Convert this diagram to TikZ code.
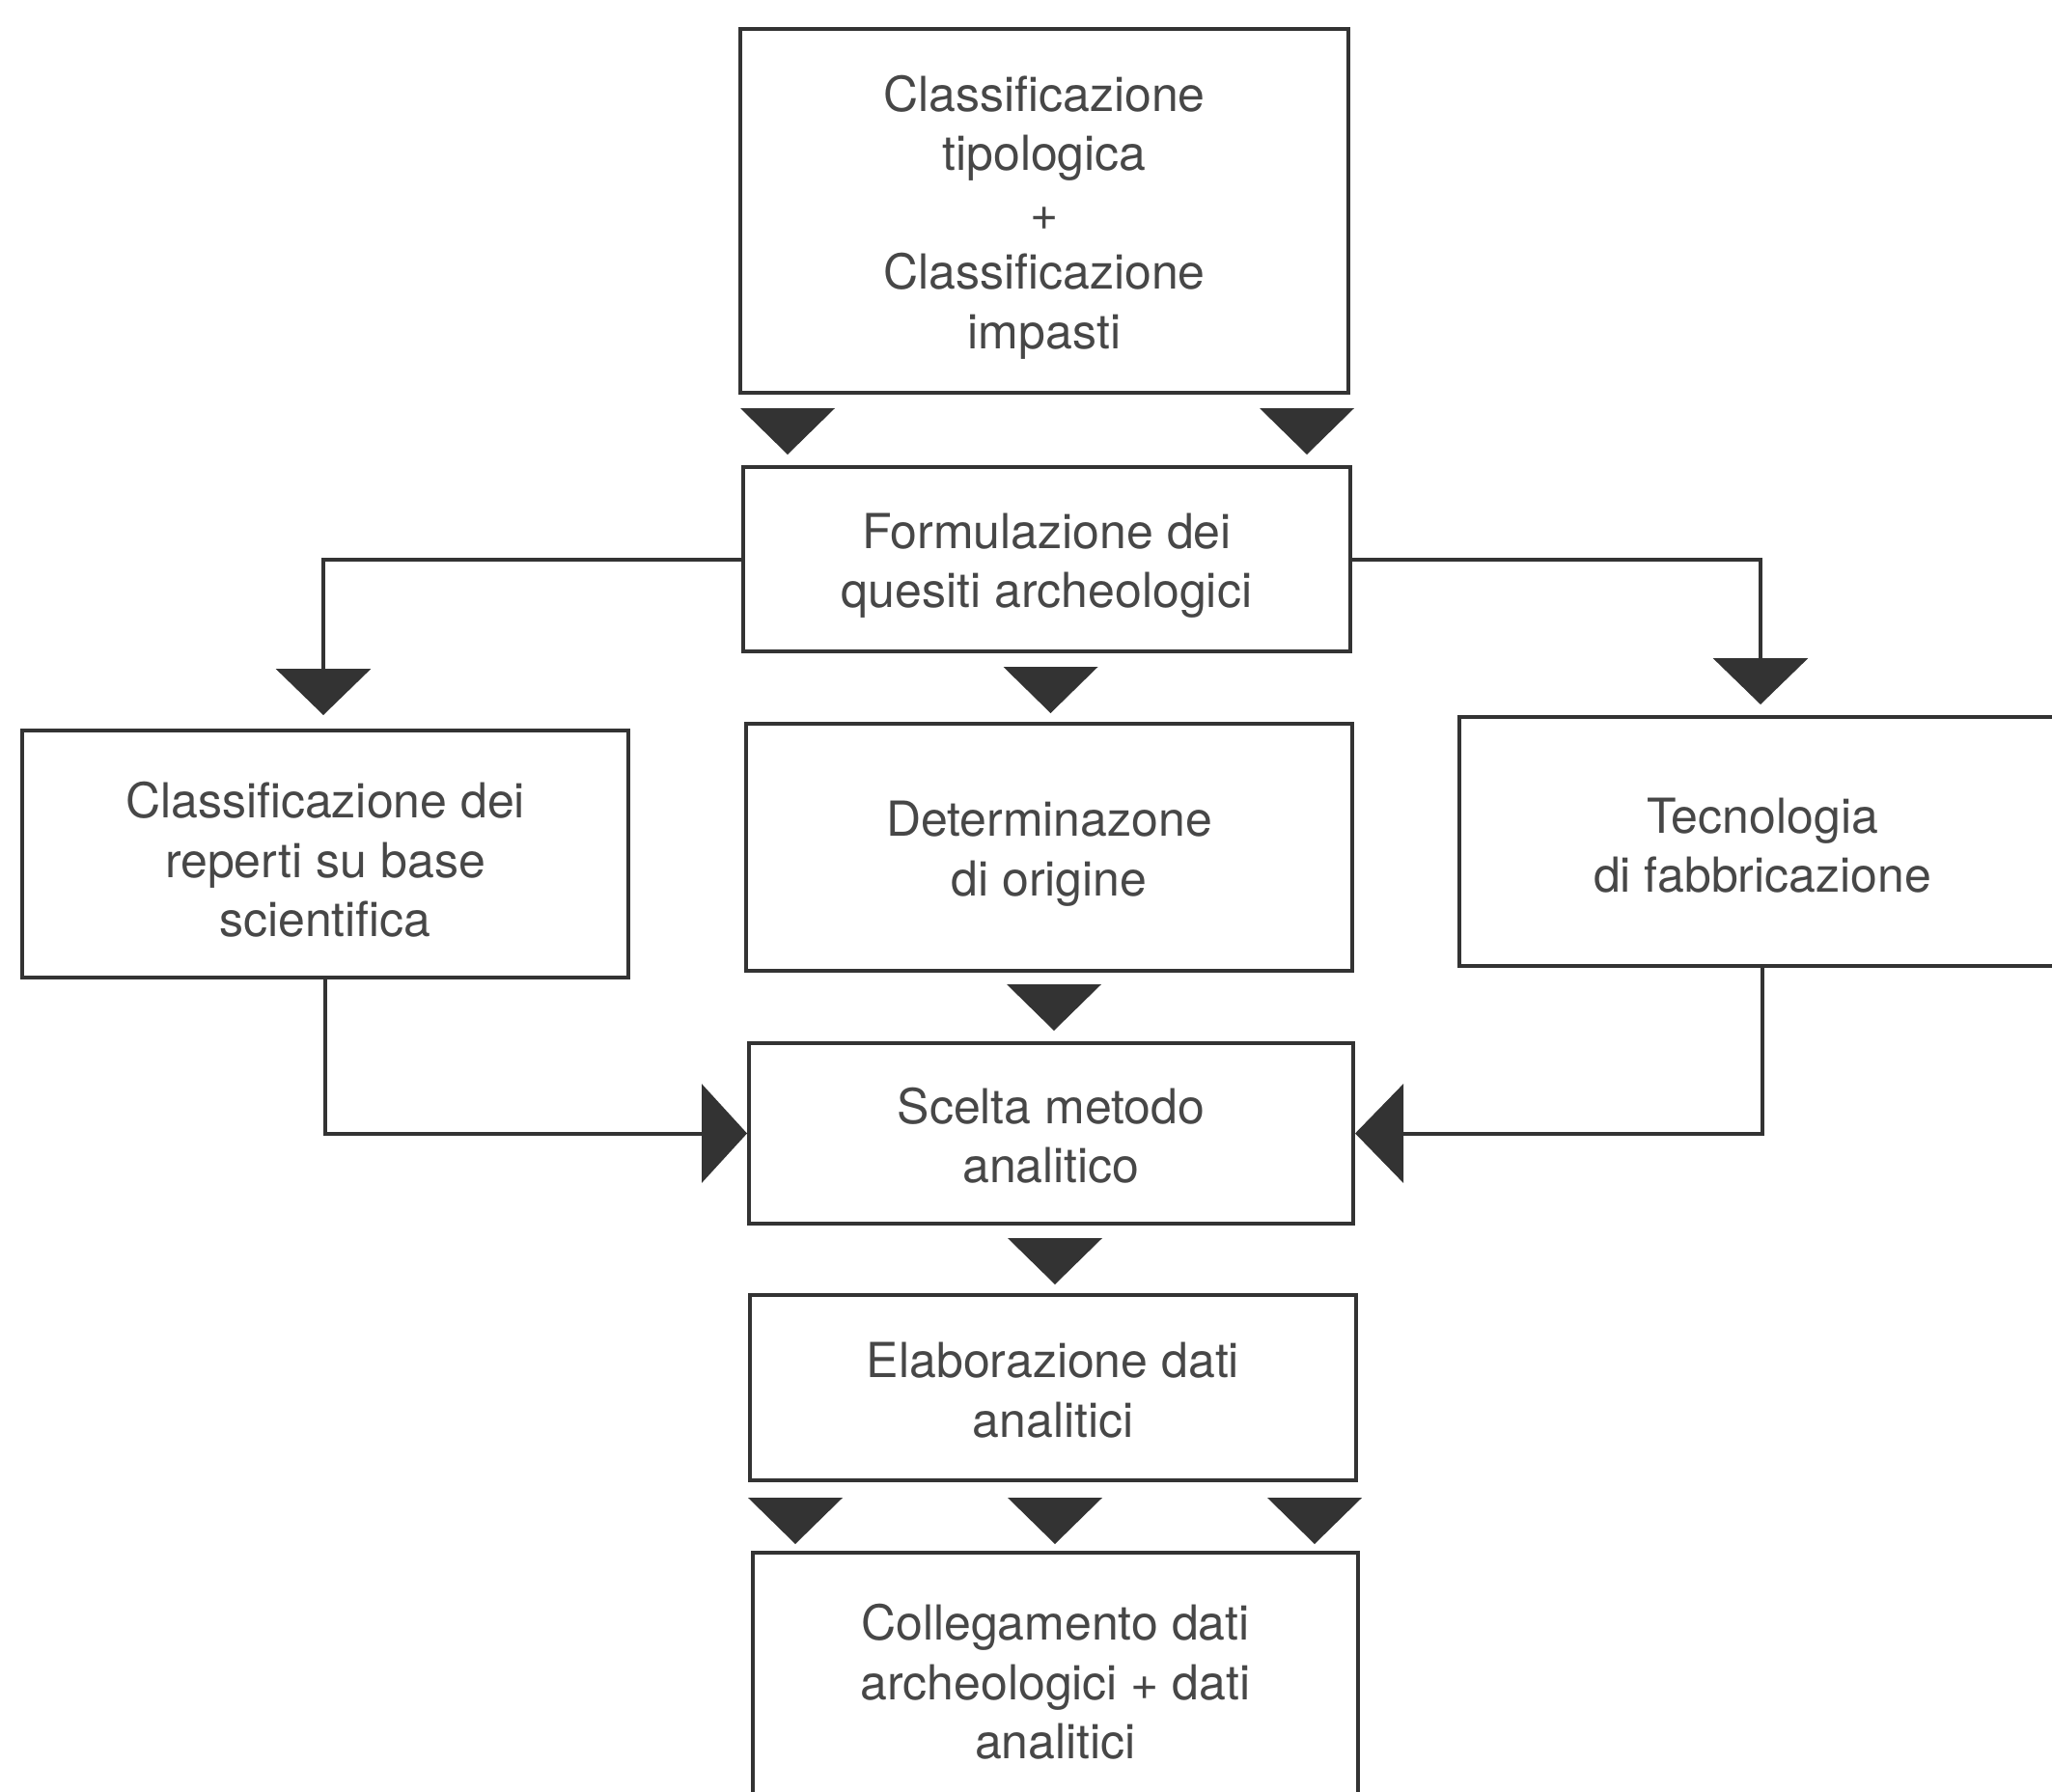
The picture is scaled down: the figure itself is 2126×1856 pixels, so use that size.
\documentclass[tikz,border=0pt]{standalone}
\usepackage{fontspec}
\setmainfont{TeX Gyre Heros}
\usetikzlibrary{arrows.meta,calc}
\definecolor{ink}{HTML}{333333}
\definecolor{txt}{HTML}{474747}
\tikzset{
  box/.style={draw=ink, line width=4pt, rectangle, inner sep=0pt, align=center,
    text=txt, font=\fontsize{50}{61.5}\selectfont},
  conn/.style={draw=ink, line width=4pt},
  tri/.style={fill=ink},
}
\newcommand\tridn[1]{\fill[tri] #1 ++(-49,0) -- ++(98,0) -- ++(-49,48) -- cycle;}
\newcommand\lowr[1]{\rule{0pt}{#1pt}}
\begin{document}
\begin{tikzpicture}[x=1pt,y=-1pt]
\useasboundingbox (0,0) rectangle (2126,1856);
\fill[white] (0,0) rectangle (2126,1856);
\clip (0,0) rectangle (2126,1856);

\node[box, minimum width=630pt, minimum height=377pt] (top) at (1082,218.5)
  {\lowr{50}Classificazione\\tipologica\\+\\Classificazione\\impasti};
\node[box, minimum width=629pt, minimum height=191pt] (form) at (1084.5,579.5)
  {\lowr{50}Formulazione dei\\quesiti archeologici};
\node[box, minimum width=628pt, minimum height=256pt] (lbox) at (337,885)
  {\lowr{49}Classificazione dei\\reperti su base\\scientifica};
\node[box, minimum width=628pt, minimum height=256pt] (mid) at (1087,878)
  {\lowr{50}Determinazone\\di origine};
\node[box, minimum width=628pt, minimum height=258pt] (rbox) at (1826,872)
  {\lowr{45}Tecnologia\\di fabbricazione};
\node[box, minimum width=626pt, minimum height=187pt] (scelta) at (1089,1174.5)
  {\lowr{42}Scelta metodo\\analitico};
\node[box, minimum width=628pt, minimum height=192pt] (elab) at (1091,1438)
  {\lowr{42}Elaborazione dati\\analitici};
\node[box, minimum width=627pt, minimum height=261pt] (coll) at (1093.5,1739.5)
  {\lowr{44}Collegamento dati\\archeologici + dati\\analitici};

% floating arrowheads between boxes
\tridn{($(top.south west)+(51,14)$)}
\tridn{($(top.south east)+(-45,14)$)}
\tridn{($(form.south)+(4,14)$)}
\tridn{($(mid.south)+(5,12)$)}
\tridn{($(scelta.south)+(4,13)$)}
\tridn{($(elab.south west)+(49,16)$)}
\tridn{($(elab.south)+(2,16)$)}
\tridn{($(elab.south east)+(-45,16)$)}

% branch connectors
\draw[conn, -{Triangle[width=98pt,length=48pt]}] (form.west) -| ($(lbox.north)+(-2,-14)$);
\draw[conn, -{Triangle[width=98pt,length=48pt]}] (form.east) -| ($(rbox.north)+(-2,-11)$);
\draw[conn, -{Triangle[width=102pt,length=47pt]}] (lbox.south) |- (scelta.west);
\draw[conn, -{Triangle[width=102pt,length=50pt]}] (rbox.south) |- (scelta.east);
\end{tikzpicture}
\end{document}
